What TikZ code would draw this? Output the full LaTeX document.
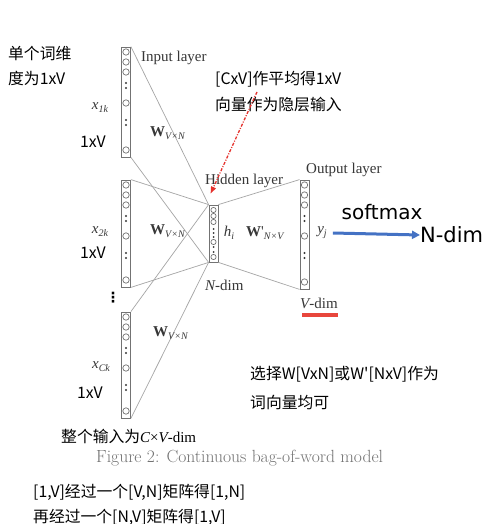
\documentclass[tikz,border=0pt]{standalone}
\usepackage{fontspec}
\usetikzlibrary{arrows.meta}
\newfontfamily\timesf{Liberation Serif}
\newfontfamily\cjk{Noto Sans CJK SC}
\newfontfamily\dejavu{DejaVu Sans}
\definecolor{labgray}{RGB}{55,55,55}
\definecolor{linegray}{RGB}{165,165,165}
\definecolor{boxgray}{RGB}{115,115,115}
\definecolor{capgray}{RGB}{115,115,115}
\definecolor{redarr}{RGB}{230,50,45}
\definecolor{redbar}{RGB}{232,70,60}
\definecolor{bluearr}{RGB}{68,114,196}
\newcommand\sbs[1]{\raisebox{-0.45ex}{\fontsize{10}{11}\selectfont #1}}
\tikzset{
  layerbox/.style={draw=boxgray, line width=0.8pt, minimum width=9pt, inner sep=0pt, fill=white},
  cell/.style={draw=boxgray, line width=0.7pt},
  conn/.style={draw=linegray, line width=0.7pt},
  lab/.style={font=\timesf\fontsize{15}{16}\selectfont, text=labgray, inner sep=0pt},
  cn/.style={font=\cjk\fontsize{15.8}{18}\selectfont, text=black, inner sep=0pt, anchor=west},
}
% standard column: name, x, top, bottom
\newcommand\layercol[4]{%
  \node[layerbox, minimum height={#4pt-#3pt}] (#1) at (#2,{(#3+#4)/2}) {};
  \foreach \yy in {5,15,25} \draw[cell] (#2,{#3+\yy}) circle[radius=3.2pt];
  \foreach \yy in {36,41} \fill[labgray] (#2,{#3+\yy}) circle[radius=1.1pt];
  \draw[cell] (#2,{#3+56}) circle[radius=3.2pt];
  \foreach \yy in {73,78} \fill[labgray] (#2,{#3+\yy}) circle[radius=1.1pt];
  \draw[cell] (#2,{#4-7}) circle[radius=3.2pt];
}
\begin{document}
\begin{tikzpicture}[x=1pt,y=-1pt]
\useasboundingbox (0,0) rectangle (490,524);
\fill[white] (0,0) rectangle (490,524);

% input and output columns
\layercol{in1}{126}{47}{157}
\layercol{in2}{126}{180}{287}
\layercol{in3}{126}{312}{418}
\layercol{out}{304.5}{180}{289}

% hidden column
\node[layerbox, minimum height=57pt] (hid) at (213.5,233.5) {};
\foreach \yy in {210,216,222,242,257} \draw[cell] (213.5,\yy) circle[radius=2.6pt];
\foreach \yy in {229,233,237,247,252} \fill[labgray] (213.5,\yy) circle[radius=1pt];

% connectors
\draw[conn] (in1.north east) -- (hid.north west);
\draw[conn] (in1.south east) -- (hid.south west);
\draw[conn] (in2.north east) -- (hid.north west);
\draw[conn] (in2.south east) -- (hid.south west);
\draw[conn] (in3.north east) -- (hid.north west);
\draw[conn] (in3.south east) -- (hid.south west);
\draw[conn] (hid.north east) -- (out.north west);
\draw[conn] (hid.south east) -- (out.south west);

% serif labels
\node[lab, anchor=west] (inl) at (141,58) {Input layer};
\node[lab, anchor=west] (hidl) at (205,181) {Hidden layer};
\node[lab, anchor=west] (outl) at (306,170) {Output layer};
\node[lab] (x1) at (100,108) {\itshape x\sbs{1k}};
\node[lab] (x2) at (100,232) {\itshape x\sbs{2k}};
\node[lab] (x3) at (101,367) {\itshape x\sbs{Ck}};
\node[lab, anchor=west] (w1) at (150,133) {\bfseries W\sbs{\mdseries\itshape V×N}};
\node[lab, anchor=west] (w2) at (150,231) {\bfseries W\sbs{\mdseries\itshape V×N}};
\node[lab, anchor=west] (w3) at (153,333) {\bfseries W\sbs{\mdseries\itshape V×N}};
\node[lab, anchor=west] (wp) at (246,233) {\bfseries W\mdseries'\sbs{\itshape N×V}};
\node[lab] (hi) at (229,233) {\itshape h\sbs{i}};
\node[lab] (yj) at (322,233) {\itshape y\sbs{j}};
\node[lab, anchor=west] (nd) at (205,285) {\itshape N\upshape -dim};
\node[lab, anchor=west] (vd) at (300,303) {\itshape V\upshape -dim};
\node[lab, font=\dejavu\bfseries\fontsize{14}{14}\selectfont, text=black] (vdots) at (113,298) {⋮};

% red underline
\coordinate (rb1) at (302,315);
\coordinate (rb2) at (338,315);
\draw[redbar, line width=3.5pt] (rb1) -- (rb2);

% chinese annotations
\node[cn] (t1) at (8,53) {单个词维};
\node[cn] (t2) at (8,78) {度为1xV};
\node[cn] (s1) at (80,142) {1xV};
\node[cn] (s2) at (80,253) {1xV};
\node[cn] (s3) at (77,393) {1xV};
\node[cn] (c1) at (215,79) {[CxV]作平均得1xV};
\node[cn] (c2) at (215,105) {向量作为隐层输入};
\node[cn] (whole) at (61,436) {整个输入为{\timesf\fontsize{15}{16}\selectfont\itshape C\upshape×\itshape V\upshape -dim}};
\node[cn] (sel1) at (250,374) {选择W[VxN]或W'[NxV]作为};
\node[cn] (sel2) at (250,402) {词向量均可};
\node[cn] (b1) at (33,492) {[1,V]经过一个[V,N]矩阵得[1,N]};
\node[cn] (b2) at (33,517) {再经过一个[N,V]矩阵得[1,V]};

% caption
\node[anchor=west, inner sep=0pt, text=capgray, font=\fontsize{17.6}{19}\selectfont] (cap) at (96,458) {Figure 2: Continuous bag-of-word model};

% red dotted arrow
\coordinate (rs) at (257,92);
\draw[redarr, line width=1.3pt, dash pattern=on 3pt off 1.5pt on 1pt off 1.5pt, -{Triangle[length=7pt,width=5pt]}] (rs) -- ([shift={(2,-11)}]hid.north west);

% softmax arrow
\node[inner sep=0pt, font=\dejavu\fontsize{20}{22}\selectfont] (sm) at (382,212) {softmax};
\node[inner sep=0pt, anchor=west, font=\dejavu\fontsize{21}{22}\selectfont] (ndim) at (420,235) {N-dim};
\draw[bluearr, line width=3pt, -{Triangle[length=8pt,width=8pt]}] ([xshift=6pt]yj.east) -- (ndim.west);
\end{tikzpicture}
\end{document}
